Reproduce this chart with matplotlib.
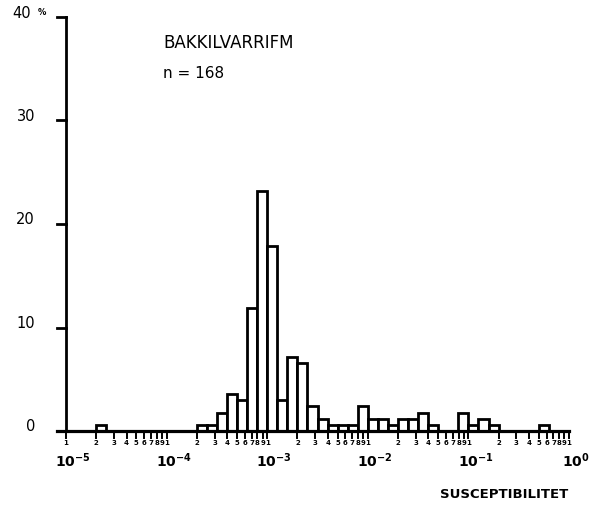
import numpy as np
import matplotlib
matplotlib.use("Agg")
import matplotlib.pyplot as plt
from matplotlib.transforms import blended_transform_factory

# ---- data ----
bin_start_log10 = [-4.7, -3.7, -3.6, -3.5, -3.4, -3.3, -3.2, -3.1, -3.0, -2.9,
                   -2.8, -2.7, -2.6, -2.5, -2.4, -2.3, -2.2, -2.1, -2.0, -1.9,
                   -1.8, -1.7, -1.6, -1.5, -1.4, -1.1, -1.0, -0.9, -0.8, -0.3]
counts = [1, 1, 1, 3, 6, 5, 20, 39, 30, 5,
          12, 11, 4, 2, 1, 1, 1, 4, 2, 2,
          1, 2, 2, 3, 1, 3, 1, 2, 1, 1]
n_total = 168
bin_width_log10 = 0.1
y_ticks = [0, 10, 20, 30, 40]
y_tick_labels = ["0", "10", "20", "30", "40%"]
decades = [-5, -4, -3, -2, -1, 0]
decade_labels = [r"$\mathbf{10^{-5}}$", r"$\mathbf{10^{-4}}$", r"$\mathbf{10^{-3}}$",
                 r"$\mathbf{10^{-2}}$", r"$\mathbf{10^{-1}}$", r"$\mathbf{10^{0}}$"]
minor_digits = [1, 2, 3, 4, 5, 6, 7, 8, 9]
title_text = "BAKKILVARRIFM"
n_text = "n = 168"
x_label = "SUSCEPTIBILITET"

percent = np.array(counts) / n_total * 100.0
left = 10.0 ** np.array(bin_start_log10)
right = 10.0 ** (np.array(bin_start_log10) + bin_width_log10)

W, H = 598, 509
fig = plt.figure(figsize=(W / 100, H / 100), dpi=100)
# x: 10^-5 at px 66, 10^0 at px 569 ; y: 0 at px 431, 40 at px 17
x_lo_px, x_hi_px = 57, 571
x_per_dec = (569 - 66) / 5.0
xlo = -5 - (66 - x_lo_px) / x_per_dec
xhi = 0 + (x_hi_px - 569) / x_per_dec
ax = fig.add_axes([x_lo_px / W, (H - 431) / H, (x_hi_px - x_lo_px) / W, (431 - 17) / H])
ax.set_xscale("log")
ax.set_xlim(10 ** xlo, 10 ** xhi)
ax.set_ylim(0, 40)
for s in ax.spines.values():
    s.set_visible(False)
ax.set_xticks([])
ax.set_yticks([])
ax.minorticks_off()

lw = 2.0
ax.bar(left, percent, width=right - left, align="edge", color="white",
       edgecolor="black", linewidth=lw, zorder=2)

# baseline and y axis
ax.plot([10 ** xlo, 10 ** 0], [0, 0], color="black", lw=lw + 0.3, clip_on=False, zorder=3)
ax.plot([1e-5, 1e-5], [0, 40], color="black", lw=lw, clip_on=False, zorder=3)

# y ticks & labels
trans_y = blended_transform_factory(fig.transFigure, ax.transData)
for yv, lab in zip(y_ticks, y_tick_labels):
    ax.plot([10 ** (-5 - 9 / x_per_dec), 1e-5], [yv, yv], color="black", lw=lw,
            clip_on=False, zorder=3)
    if lab.endswith("%"):
        fig.text(12 / W, yv + 0.3, lab[:-1], transform=trans_y, fontsize=10.5,
                 ha="left", va="center")
        fig.text(38 / W, yv + 0.4, "%", transform=trans_y, fontsize=6, fontweight="bold",
                 ha="left", va="center")
    else:
        fig.text(35 / W, yv + 0.4, lab, transform=trans_y, fontsize=10.5,
                 ha="right", va="center")

# x ticks (minor & major) with tiny digit labels
trans_x = blended_transform_factory(ax.transData, fig.transFigure)
for d in decades:
    for m in minor_digits:
        if d == 0 and m > 1:
            continue
        xv = m * 10.0 ** d
        ax.plot([xv, xv], [0, -0.65], color="black", lw=1.4, clip_on=False, zorder=3)
        fig.text(xv, (H - 443) / H, str(m), transform=trans_x, fontsize=5,
                 fontweight="bold", ha="center", va="center")
for d, lab in zip(decades, decade_labels):
    fig.text(10.0 ** d * 10 ** (7 / x_per_dec), (H - 461) / H, lab, transform=trans_x,
             fontsize=10, ha="center", va="center")

fig.text(163 / W, (H - 43) / H, title_text, fontsize=12, ha="left", va="center")
fig.text(163 / W, (H - 73) / H, n_text, fontsize=11, ha="left", va="center")
fig.text(440 / W, (H - 494) / H, x_label, fontsize=9.5, fontweight="bold",
         ha="left", va="center")

fig.savefig("out.png", dpi=100)
